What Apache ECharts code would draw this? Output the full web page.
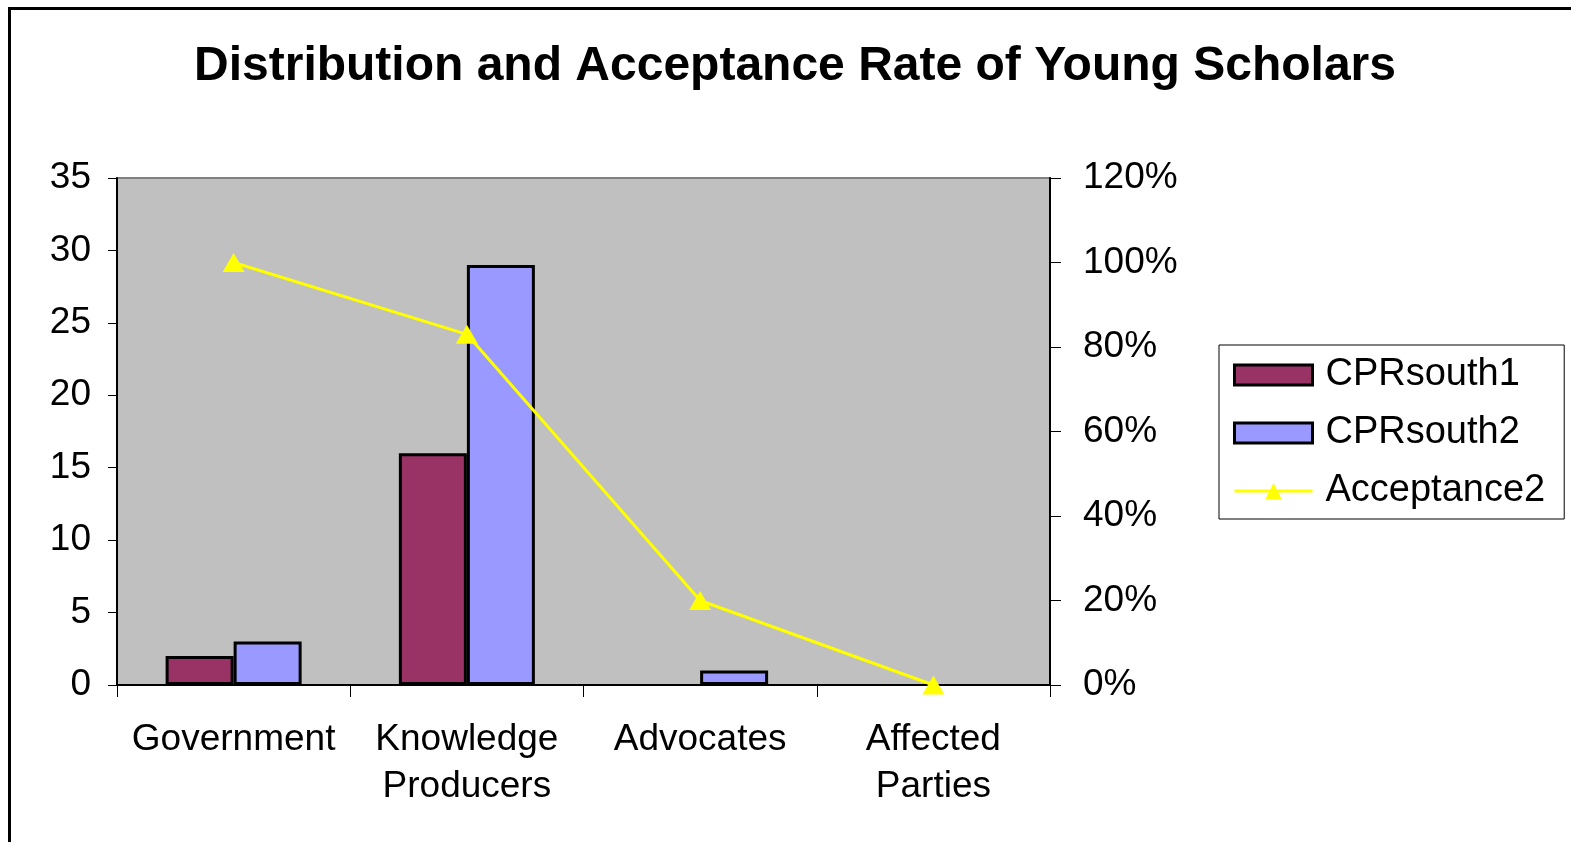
<!DOCTYPE html>
<html>
<head>
<meta charset="utf-8">
<script src="https://cdn.jsdelivr.net/npm/echarts@6/dist/echarts.min.js"></script>
<style>
  html, body { margin: 0; padding: 0; background: #fff; }
  #chart { width: 1571px; height: 842px; }
</style>
</head>
<body>
<div id="chart"></div>
<script>
// chart data
const categories = ['Government', 'Knowledge\nProducers', 'Advocates', 'Affected\nParties']
const cprSouth1 = [2, 16, 0, 0]
const cprSouth2 = [3, 29, 1, 0]
const acceptance2 = [1.0, 0.83, 0.2, 0]
const leftTicks = [0, 35, 5]
const rightTicks = [0, 1.2, 0.2]

const font = 'Liberation Sans, Arial, sans-serif'
const chart = echarts.init(document.getElementById('chart'))

// zero bars get no outline, like the original
function barData(values) {
  return values.map(v => (v === 0 ? { value: 0, itemStyle: { borderWidth: 0 } } : v))
}

chart.setOption({
  animation: false,
  textStyle: { fontFamily: font },
  graphic: [
    {
      type: 'rect',
      shape: { x: 9.5, y: 8.5, width: 1600, height: 900 },
      style: { fill: 'none', stroke: '#000', lineWidth: 3 },
      silent: true
    }
  ],
  title: {
    text: 'Distribution and Acceptance Rate of Young Scholars',
    left: 790,
    textAlign: 'center',
    top: 38,
    textStyle: { fontSize: 48, fontWeight: 'bold', color: '#000', fontFamily: font }
  },
  legend: {
    orient: 'vertical',
    left: 1219,
    top: 345,
    padding: [11, 19, 9, 14],
    itemGap: 20,
    itemWidth: 78,
    itemHeight: 20,
    backgroundColor: '#fff',
    borderColor: '#000',
    borderWidth: 1,
    textStyle: { fontSize: 38, color: '#000', fontFamily: font, padding: [0, 0, 0, 8] },
    data: [
      { name: 'CPRsouth1', icon: 'rect', itemStyle: { borderColor: '#000', borderWidth: 3 } },
      { name: 'CPRsouth2', icon: 'rect', itemStyle: { borderColor: '#000', borderWidth: 3 } },
      { name: 'Acceptance2', lineStyle: { width: 3 } }
    ]
  },
  grid: {
    left: 117,
    top: 178,
    width: 933,
    height: 507,
    show: true,
    backgroundColor: '#c0c0c0',
    borderColor: '#808080',
    borderWidth: 2
  },
  xAxis: {
    type: 'category',
    data: categories,
    axisLine: { lineStyle: { color: '#000', width: 2 } },
    axisTick: { show: true, interval: 0, length: 12, lineStyle: { color: '#000' } },
    axisLabel: { interval: 0, fontSize: 37, color: '#000', margin: 31, lineHeight: 47, fontFamily: font }
  },
  yAxis: [
    {
      type: 'value',
      min: leftTicks[0],
      max: leftTicks[1],
      interval: leftTicks[2],
      splitLine: { show: false },
      axisLine: { show: true, lineStyle: { color: '#000', width: 2 } },
      axisTick: { show: true, length: 9, lineStyle: { color: '#000' } },
      axisLabel: { fontSize: 37, color: '#000', margin: 26, fontFamily: font }
    },
    {
      type: 'value',
      min: rightTicks[0],
      max: rightTicks[1],
      interval: rightTicks[2],
      position: 'right',
      splitLine: { show: false },
      axisLine: { show: true, lineStyle: { color: '#000', width: 2 } },
      axisTick: { show: true, length: 11, lineStyle: { color: '#000' } },
      axisLabel: {
        fontSize: 37,
        color: '#000',
        margin: 33,
        fontFamily: font,
        formatter: v => Math.round(v * 100) + '%'
      }
    }
  ],
  series: [
    {
      name: 'CPRsouth1',
      type: 'bar',
      data: barData(cprSouth1),
      barWidth: 68,
      barGap: '0%',
      itemStyle: { color: '#993366', borderColor: '#000', borderWidth: 3 }
    },
    {
      name: 'CPRsouth2',
      type: 'bar',
      data: barData(cprSouth2),
      barWidth: 68,
      barGap: '0%',
      itemStyle: { color: '#9999ff', borderColor: '#000', borderWidth: 3 }
    },
    {
      name: 'Acceptance2',
      type: 'line',
      yAxisIndex: 1,
      data: acceptance2,
      symbol: 'triangle',
      symbolSize: [22, 19],
      lineStyle: { color: '#ffff00', width: 3 },
      itemStyle: { color: '#ffff00' }
    }
  ]
})
</script>
</body>
</html>
